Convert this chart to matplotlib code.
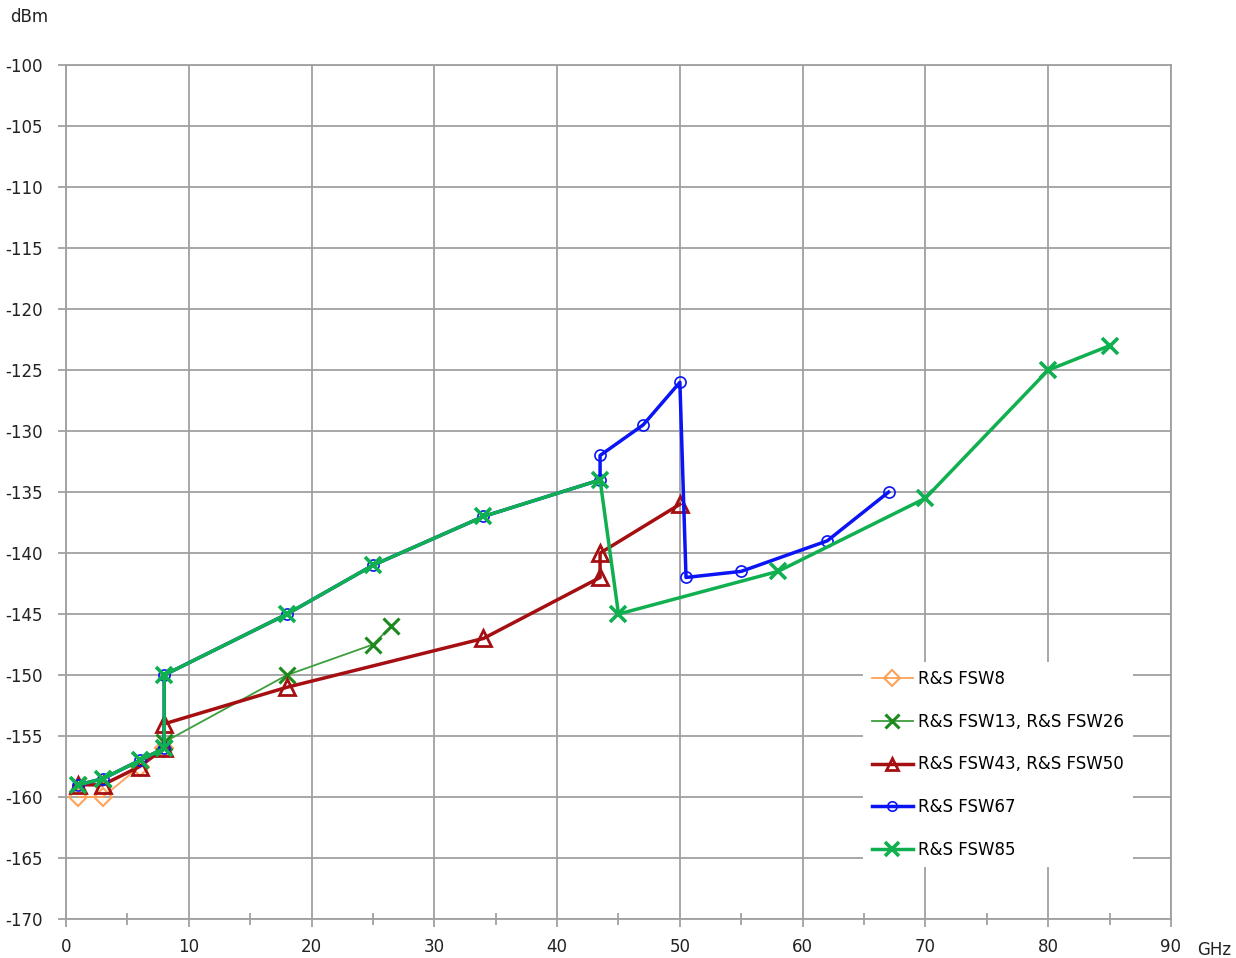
import matplotlib
matplotlib.use("Agg")
import matplotlib.pyplot as plt
from matplotlib.ticker import MultipleLocator

plt.rcParams['font.family'] = ['DejaVu Sans']
plt.rcParams['axes.unicode_minus'] = False

# frequency (GHz) / level (dBm) per instrument family
fsw8_f = [1, 3, 6, 8]
fsw8_v = [-160, -160, -157.5, -156]

fsw13_f = [1, 3, 6, 8, 8, 18, 25, 26.5]
fsw13_v = [-159, -158.5, -157, -156, -155.5, -150, -147.5, -146]

fsw43_f = [1, 3, 6, 8, 8, 18, 34, 43.5, 43.5, 50]
fsw43_v = [-159, -159, -157.5, -156, -154, -151, -147, -142, -140, -136]

fsw67_f = [1, 3, 6, 8, 8, 18, 25, 34, 43.5, 43.5, 47, 50, 50.5, 55, 62, 67]
fsw67_v = [-159, -158.5, -157, -156, -150, -145, -141, -137, -134, -132,
           -129.5, -126, -142, -141.5, -139, -135]

fsw85_f = [1, 3, 6, 8, 8, 18, 25, 34, 43.5, 45, 58, 70, 80, 85]
fsw85_v = [-159, -158.5, -157, -156, -150, -145, -141, -137, -134, -145,
           -141.5, -135.5, -125, -123]

labels = ['R&S FSW8', 'R&S FSW13, R&S FSW26', 'R&S FSW43, R&S FSW50',
          'R&S FSW67', 'R&S FSW85']

fig = plt.figure(figsize=(12.36, 9.58), dpi=100)
ax = fig.add_axes([0.0534, 0.0407, 0.8940, 0.8913])

ax.plot(fsw8_f, fsw8_v, color='#FFA257', lw=1.3, marker='D', ms=9,
        mfc='none', mew=1.5, label=labels[0])
ax.plot(fsw13_f, fsw13_v, color='#3C9E3C', lw=1.3, marker='x', ms=12,
        mec='#1E8A1E', mew=2.2, label=labels[1])
ax.plot(fsw43_f, fsw43_v, color='#A50F12', lw=2.5, marker='^', ms=11,
        mfc='none', mew=2, label=labels[2])
ax.plot(fsw67_f, fsw67_v, color='#0A14F5', lw=2.5, marker='o', ms=8,
        mfc='none', mew=1.2, label=labels[3])
ax.plot(fsw85_f, fsw85_v, color='#10B050', lw=2.5, marker='x', ms=12,
        mew=2.6, label=labels[4])

ax.set_xlim(0, 90)
ax.set_ylim(-170, -100)
ax.xaxis.set_major_locator(MultipleLocator(10))
ax.xaxis.set_minor_locator(MultipleLocator(5))
ax.yaxis.set_major_locator(MultipleLocator(5))
ax.grid(True, which='major', color='#A0A0A0', lw=1.3)
for s in ax.spines.values():
    s.set_color('#A0A0A0')
    s.set_linewidth(1.3)
ax.tick_params(axis='both', which='major', color='#A0A0A0', width=1.3,
               length=6, labelsize=12, labelcolor='#222222')
ax.tick_params(axis='x', which='minor', direction='inout', color='#A0A0A0',
               width=1.3, length=8)
ax.tick_params(axis='x', pad=8)
ax.tick_params(axis='y', pad=11)

leg = ax.legend(loc='upper left', bbox_to_anchor=(0.714, 0.311),
                fontsize=12, frameon=True, facecolor='white',
                edgecolor='white', framealpha=1, fancybox=False,
                labelspacing=1.48, handlelength=2.5, handletextpad=0.3,
                borderpad=0.5, markerscale=0.85)
leg.get_frame().set_linewidth(0)

fig.text(10 / 1236, 1 - 17 / 958, 'dBm', fontsize=12, color='#222222',
         va='center', ha='left')
fig.text(1197 / 1236, 1 - 950 / 958, 'GHz', fontsize=12, color='#222222',
         va='center', ha='left')

fig.savefig('out.png', dpi=100)
